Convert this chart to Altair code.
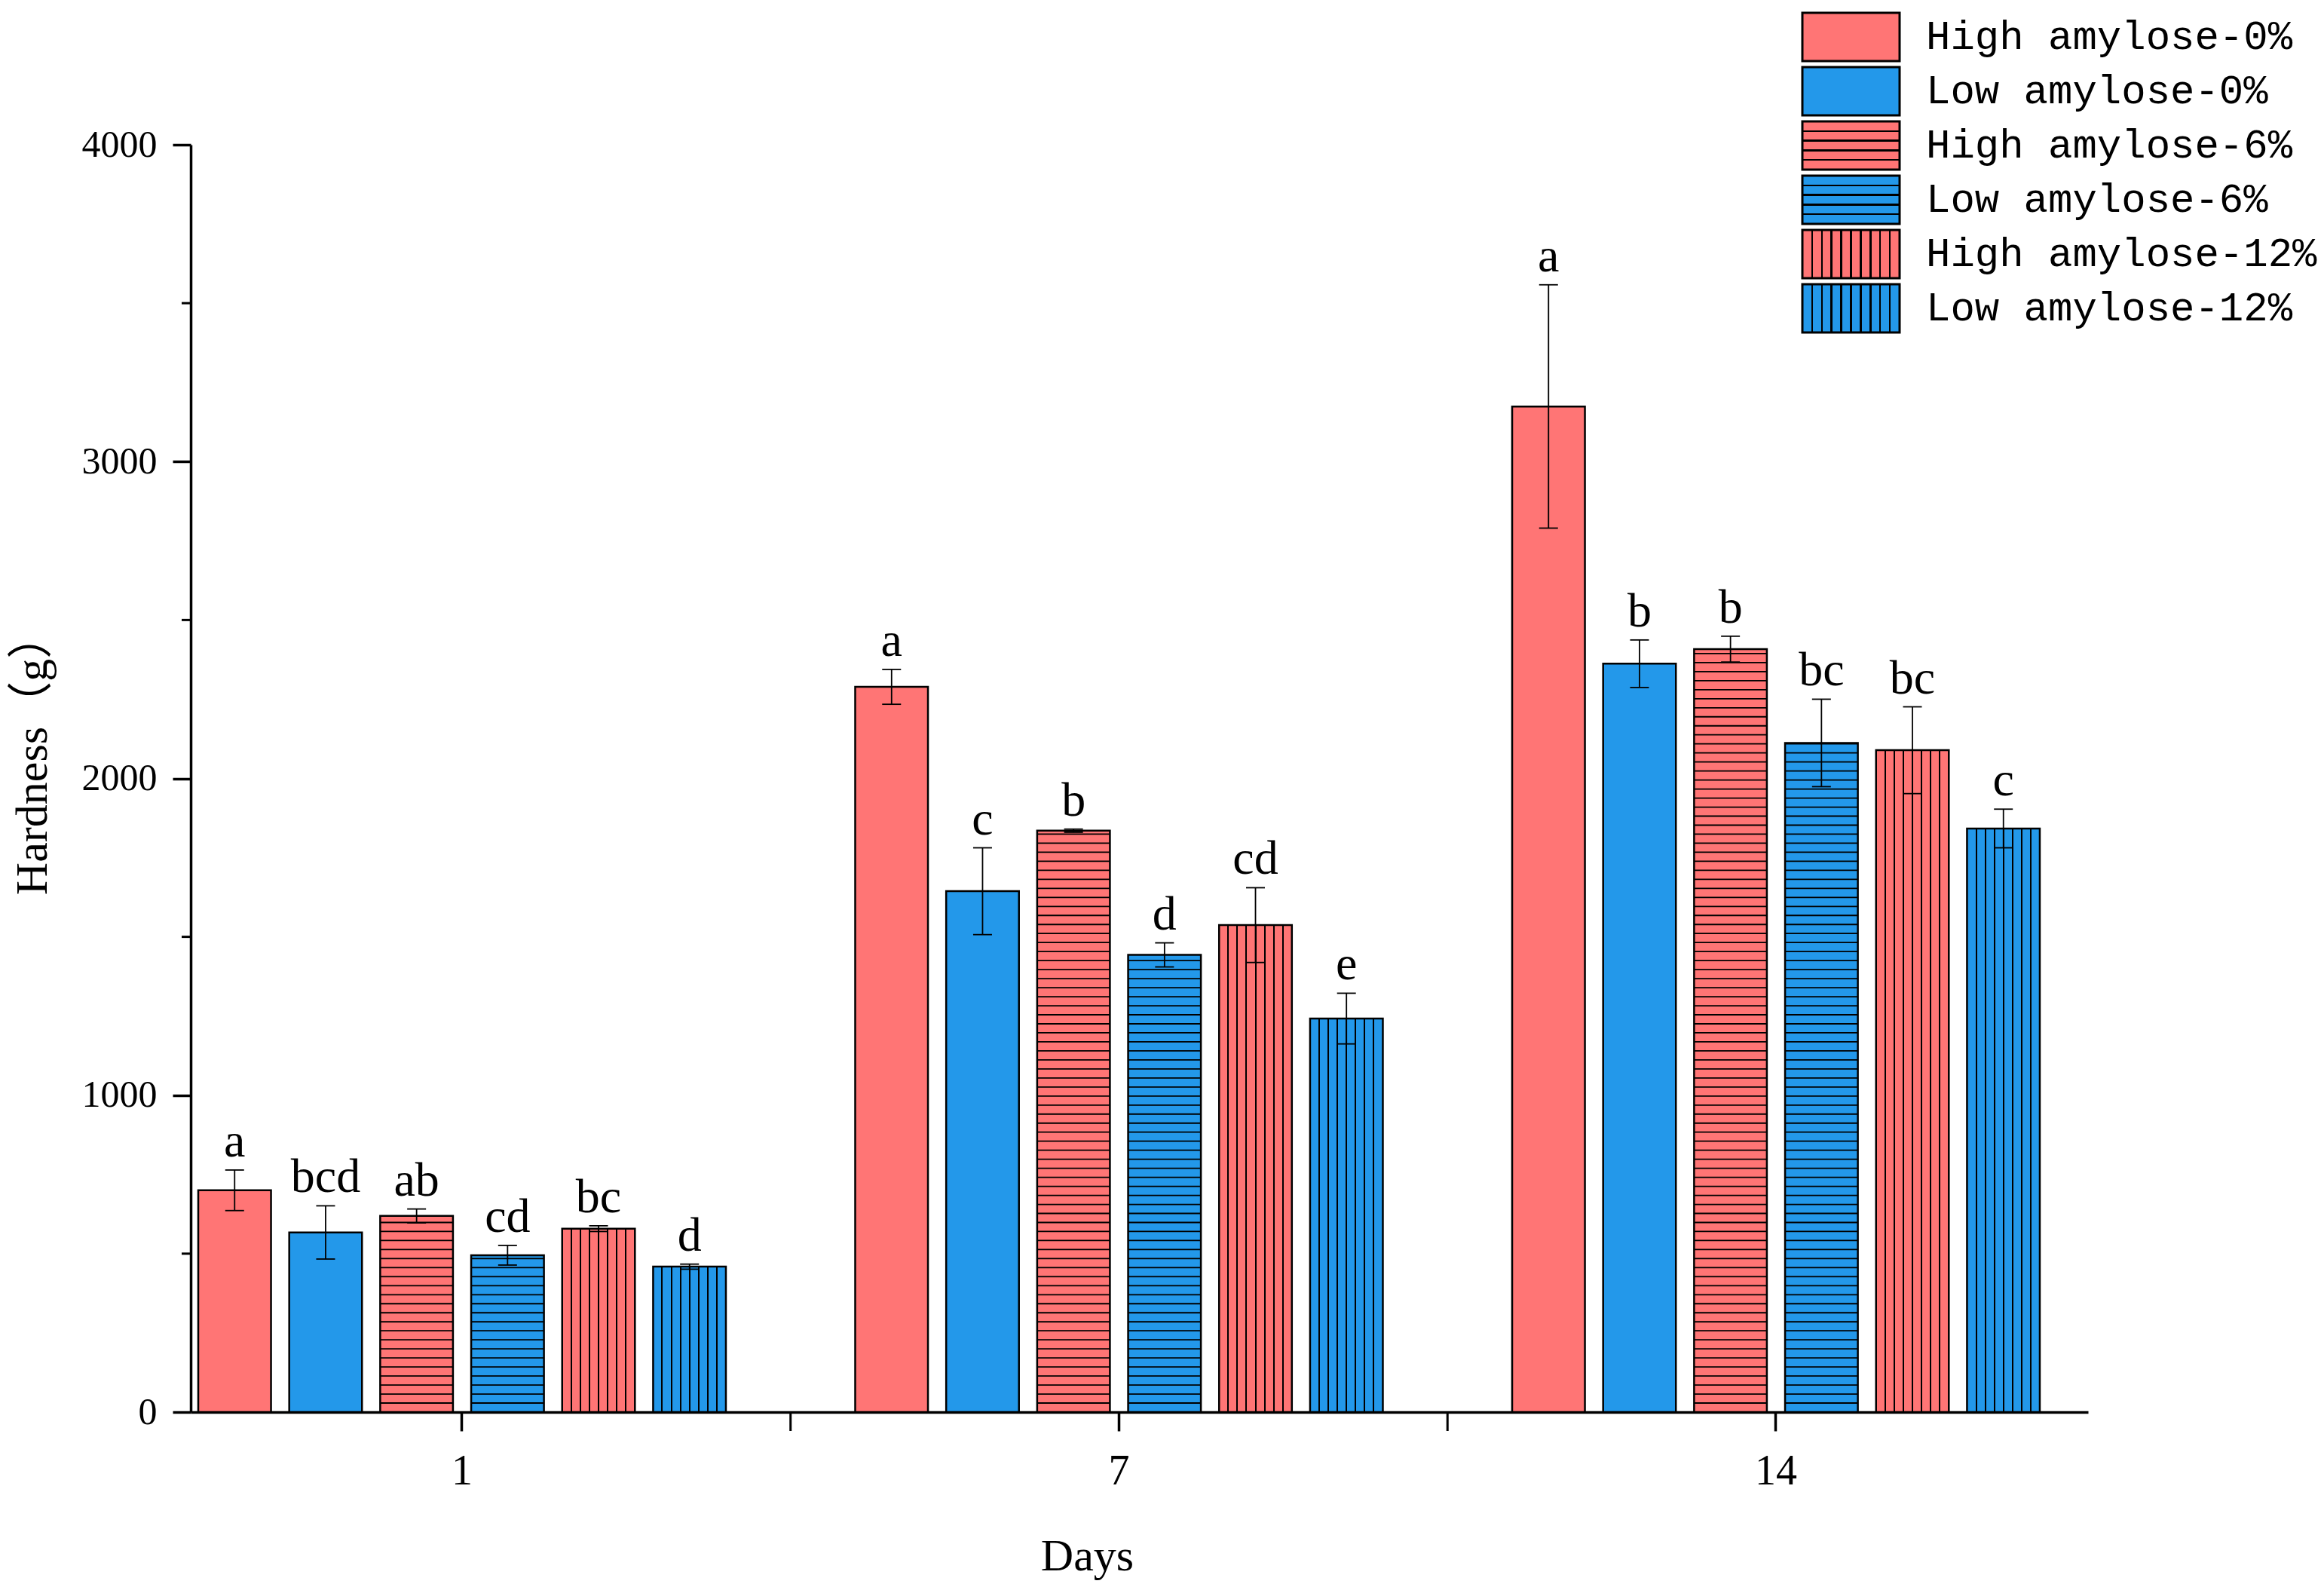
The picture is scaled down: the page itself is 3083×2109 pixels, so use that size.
import altair as alt
import pandas as pd

# ---------------- data ----------------
days = ["1", "7", "14"]
series = ["High amylose-0%", "Low amylose-0%", "High amylose-6%",
          "Low amylose-6%", "High amylose-12%", "Low amylose-12%"]
hardness_d1 = [700, 567, 619, 495, 579, 459]
hardness_d7 = [2289, 1644, 1835, 1443, 1537, 1242]
hardness_d14 = [3174, 2362, 2408, 2112, 2089, 1842]
error_d1 = [64, 84, 22, 31, 9, 8]
error_d7 = [55, 137, 5, 38, 118, 80]
error_d14 = [384, 75, 41, 138, 137, 61]
letters_d1 = ["a", "bcd", "ab", "cd", "bc", "d"]
letters_d7 = ["a", "c", "b", "d", "cd", "e"]
letters_d14 = ["a", "b", "b", "bc", "bc", "c"]
y_ticks = [0, 1000, 2000, 3000, 4000]
y_minor_ticks = [500, 1500, 2500, 3500]
x_between_ticks = ["1", "7"]

# ---------------- styles ----------------
RED = "#FF7575"
BLUE = "#2398EA"
SERIF = "Liberation Serif"
SERIF_CJK = "Liberation Serif, Noto Sans CJK SC"
MONO = "Liberation Mono"

W, H = 2517, 1681
PAD_L, PAD_T = 245, 184

X_PAD_INNER, X_PAD_OUTER, X_ALIGN = 0.1968, 0.04246, 0.135
OFF_PAD_INNER = 0.2
step = W / (3 - X_PAD_INNER + 2 * X_PAD_OUTER)
band_w = step * (1 - X_PAD_INNER)
gap_w = step * X_PAD_INNER
bar_w = band_w / (6 - OFF_PAD_INNER) * (1 - OFF_PAD_INNER)
STRIPE_STEP = 28.5  # data units between horizontal hatch lines (~12px)


def pattern_of(name):
    if name.endswith("-6%"):
        return "h"
    if name.endswith("-12%"):
        return "v"
    return "solid"


def stripes(color, n, vertical_lines, line_px, box_px):
    half = line_px / 2 / box_px
    stops = [{"offset": 0, "color": color}]
    for k in range(1, n):
        c = k / n
        a, b = round(c - half, 5), round(c + half, 5)
        stops += [{"offset": a, "color": color}, {"offset": a, "color": "black"},
                  {"offset": b, "color": "black"}, {"offset": b, "color": color}]
    stops.append({"offset": 1, "color": color})
    g = {"gradient": "linear", "stops": stops}
    if vertical_lines:
        g.update({"x1": 0, "y1": 0, "x2": 1, "y2": 0})
    else:
        g.update({"x1": 0, "y1": 0, "x2": 0, "y2": 1})
    return g


rows = []
for d, vals, errs, lets in [("1", hardness_d1, error_d1, letters_d1),
                            ("7", hardness_d7, error_d7, letters_d7),
                            ("14", hardness_d14, error_d14, letters_d14)]:
    for s, v, e, l in zip(series, vals, errs, lets):
        rows.append({"Day": d, "Series": s, "Hardness": v, "lo": v - e, "hi": v + e,
                     "Letter": l, "Amylose": s.split()[0], "Pattern": pattern_of(s)})
df = pd.DataFrame(rows)

x_scale = alt.Scale(domain=days, paddingInner=X_PAD_INNER, paddingOuter=X_PAD_OUTER, align=X_ALIGN)
x_off = alt.XOffset("Series:N", sort=series,
                    scale=alt.Scale(domain=series, paddingInner=OFF_PAD_INNER, paddingOuter=0))
y_scale = alt.Scale(domain=[0, 4000], nice=False, zero=True)

x_axis = alt.Axis(labelFont=SERIF, labelFontSize=56, labelAngle=0, labelColor="black",
                  labelPadding=26, tickSize=25, tickWidth=3.5, tickColor="black",
                  domainWidth=3.5, domainColor="black", titleFont=SERIF, titleFontSize=60,
                  titleFontWeight="normal", titleColor="black", titleX=1189, titleY=209,
                  titleBaseline="alphabetic")
y_axis = alt.Axis(values=y_ticks, format="d", grid=False, labelFont=SERIF, labelFontSize=50,
                  labelColor="black", labelPadding=21, tickSize=24, tickWidth=3.5,
                  tickColor="black", domainWidth=3.5, domainColor="black",
                  titleFont=SERIF_CJK, titleFontSize=60, titleFontWeight="normal",
                  titleColor="black", titleX=-192, titleY=808, titleBaseline="alphabetic",
                  titleAlign="center")
X_TITLE = "Days"
Y_TITLE = "Hardness（g）"


def xd(**kw):
    return alt.X("Day:N", sort=days, scale=x_scale, axis=x_axis, title=X_TITLE, **kw)


def yq(field):
    return alt.Y(field, scale=y_scale, axis=y_axis, title=Y_TITLE)


bar_fill = (alt.when(alt.datum.Series == series[4]).then(alt.value(stripes(RED, 8, True, 2, bar_w)))
            .when(alt.datum.Series == series[5]).then(alt.value(stripes(BLUE, 8, True, 2, bar_w)))
            .when(alt.datum.Amylose == "High").then(alt.value(RED))
            .otherwise(alt.value(BLUE)))

base = alt.Chart(df)

bars = base.mark_bar(stroke="black", strokeWidth=2.5).encode(
    x=xd(), xOffset=x_off, y=yq("Hardness:Q"), fill=bar_fill)

hatch = base.transform_filter(alt.datum.Pattern == "h").transform_calculate(
    s=f"sequence({STRIPE_STEP}, datum.Hardness, {STRIPE_STEP})"
).transform_flatten(["s"]).mark_tick(
    orient="horizontal", size=bar_w - 1, thickness=1.8, color="black", opacity=1
).encode(x=xd(), xOffset=x_off, y=yq("s:Q"))

err = base.mark_rule(color="black", strokeWidth=1.8).encode(
    x=xd(), xOffset=x_off, y=yq("lo:Q"), y2="hi:Q")
cap_hi = base.mark_tick(orient="horizontal", size=25, thickness=1.8, color="black", opacity=1).encode(
    x=xd(), xOffset=x_off, y=yq("hi:Q"))
cap_lo = base.mark_tick(orient="horizontal", size=25, thickness=1.8, color="black", opacity=1).encode(
    x=xd(), xOffset=x_off, y=yq("lo:Q"))
labels = base.mark_text(font=SERIF, fontSize=64, baseline="alphabetic", dy=-18, color="black").encode(
    x=xd(), xOffset=x_off, y=yq("hi:Q"), text="Letter:N")

minor = alt.Chart(pd.DataFrame({"v": y_minor_ticks})).mark_rule(color="black", strokeWidth=3).encode(
    y=yq("v:Q"), x=alt.value(-12), x2=alt.value(0))
between = alt.Chart(pd.DataFrame({"Day": x_between_ticks})).mark_rule(
    color="black", strokeWidth=3, xOffset=gap_w / 2).encode(
    x=xd(bandPosition=1), y=alt.value(H), y2=alt.value(H + 25))

main = alt.layer(bars, hatch, err, cap_hi, cap_lo, labels, minor, between)

# ---------------- legend ----------------
leg_df = pd.DataFrame({"Series": series,
                       "Amylose": [s.split()[0] for s in series],
                       "Pattern": [pattern_of(s) for s in series]})
leg_y = alt.Y("Series:N", sort=series,
              scale=alt.Scale(domain=series, range=[-175, 249], paddingInner=0.111, paddingOuter=0),
              axis=None)
leg_fill = (alt.when(alt.datum.Series == series[2]).then(alt.value(stripes(RED, 5, False, 2.5, 64)))
            .when(alt.datum.Series == series[3]).then(alt.value(stripes(BLUE, 5, False, 2.5, 64)))
            .when(alt.datum.Series == series[4]).then(alt.value(stripes(RED, 10, True, 2.5, 129)))
            .when(alt.datum.Series == series[5]).then(alt.value(stripes(BLUE, 10, True, 2.5, 129)))
            .when(alt.datum.Amylose == "High").then(alt.value(RED))
            .otherwise(alt.value(BLUE)))
leg_rect = alt.Chart(leg_df).mark_rect(stroke="black", strokeWidth=3).encode(
    y=leg_y, x=alt.value(2138), x2=alt.value(2267), fill=leg_fill)
leg_text = alt.Chart(leg_df).mark_text(font=MONO, fontSize=54, align="left", baseline="middle",
                                       color="black").encode(
    y=leg_y, x=alt.value(2302), text="Series:N")
legend = alt.layer(leg_rect, leg_text)

chart = alt.layer(main, legend).resolve_scale(y="independent").properties(
    width=W, height=H,
    padding={"left": PAD_L, "top": PAD_T, "right": 305, "bottom": 236},
    autosize=alt.AutoSizeParams(type="none"),
    background="white",
).configure_view(stroke=None)

chart.save("out.html", embed_options={"renderer": "svg", "actions": False})
